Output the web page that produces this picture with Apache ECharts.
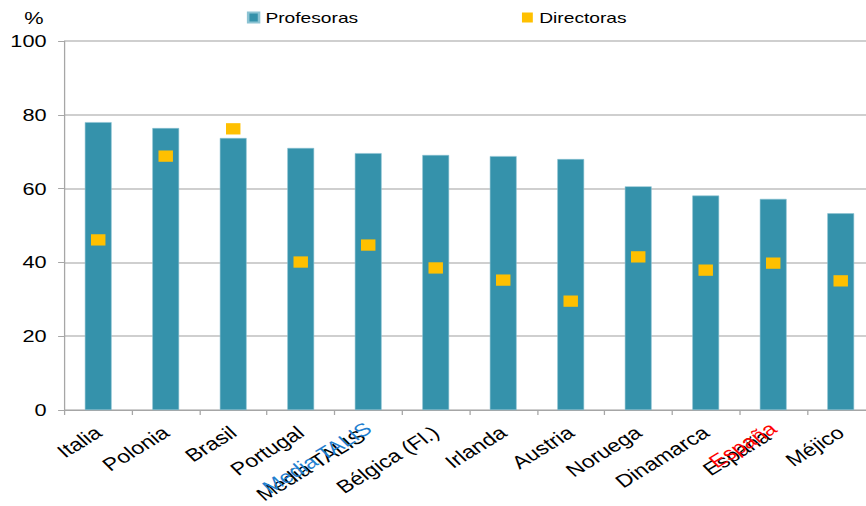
<!DOCTYPE html>
<html><head><meta charset="utf-8">
<script src="https://cdn.jsdelivr.net/npm/echarts@6/dist/echarts.min.js"></script>
<style>html,body{margin:0;padding:0;background:#fff;overflow:hidden}
#wrap{width:866px;height:506px;overflow:hidden;position:relative}
#c{position:absolute;left:0;top:0;width:690px;height:506px;transform:scaleX(1.2792);transform-origin:0 0}</style>
</head><body><div id="wrap"><div id="c"></div></div>
<script>
const categories = ['Italia','Polonia','Brasil','Portugal','Media TALIS','Bélgica (Fl.)','Irlanda','Austria','Noruega','Dinamarca','España','Méjico'];
const profesoras = [78.0, 76.4, 73.7, 71.0, 69.6, 69.1, 68.8, 68.0, 60.6, 58.1, 57.2, 53.3];
const directoras = [46.1, 68.8, 76.2, 40.1, 44.7, 38.5, 35.2, 29.5, 41.5, 37.9, 39.8, 35.0];
const yTicks = [0, 20, 40, 60, 80, 100];
const highlight = {'Media TALIS': '#1F7FD0', 'España': '#FF0000'};

const font = 'Liberation Sans, Arial, sans-serif';
const chart = echarts.init(document.getElementById('c'), null, {renderer: 'svg'});
chart.setOption({
  animation: false,
  backgroundColor: '#ffffff',
  title: {text: '%', left: 14, top: 4, textStyle: {fontFamily: font, fontSize: 17, fontWeight: 'normal', color: '#000'}},
  legend: {
    top: 5, left: 188, itemGap: 128, itemWidth: 8.5, itemHeight: 10, icon: 'rect',
    textStyle: {fontFamily: font, fontSize: 15, color: '#000'},
    data: ['Profesoras', 'Directoras']
  },
  grid: {left: 50.4, right: 6.4, top: 41, bottom: 96, containLabel: false, outerBoundsMode: 'none'},
  xAxis: [{
    type: 'category', data: categories,
    axisLine: {lineStyle: {color: '#a6a6a6', width: 1}},
    axisTick: {show: true, alignWithLabel: false, length: 5, lineStyle: {color: '#a6a6a6'}},
    axisLabel: {rotate: 38, interval: 0, margin: 20, fontFamily: font, fontSize: 18, color: '#000',
      formatter: v => highlight[v] ? '{sh|' + v + '}' : v,
      rich: {sh: {padding: [0, 6, 0, 0], fontFamily: font, fontSize: 18, color: '#000'}}}
  }, {
    type: 'category', data: categories, position: 'bottom',
    axisLine: {show: false}, axisTick: {show: false}, splitLine: {show: false},
    axisLabel: {rotate: 38, interval: 0, margin: 16, fontFamily: font, fontSize: 18,
      formatter: v => highlight[v] ? v : '',
      color: v => highlight[v] || '#000'}
  }],
  yAxis: {
    type: 'value', min: 0, max: 100, interval: 20,
    axisLine: {show: true, lineStyle: {color: '#a6a6a6'}},
    axisTick: {show: true, length: 5, lineStyle: {color: '#a6a6a6'}},
    splitLine: {lineStyle: {color: '#bfbfbf', width: 1.5}},
    axisLabel: {margin: 14, fontFamily: font, fontSize: 17, color: '#000',
      formatter: v => yTicks.includes(v) ? String(v) : ''}
  },
  series: [{
    name: 'Profesoras', type: 'bar', data: profesoras, barWidth: 21,
    itemStyle: {color: '#3592AB', borderColor: '#8cc3d3', borderWidth: 0.5}
  }, {
    name: 'Directoras', type: 'scatter', data: directoras, symbol: 'rect', symbolSize: [11.3, 11.3],
    itemStyle: {color: '#FFC000', opacity: 1}, z: 3
  }]
});
</script></body></html>
